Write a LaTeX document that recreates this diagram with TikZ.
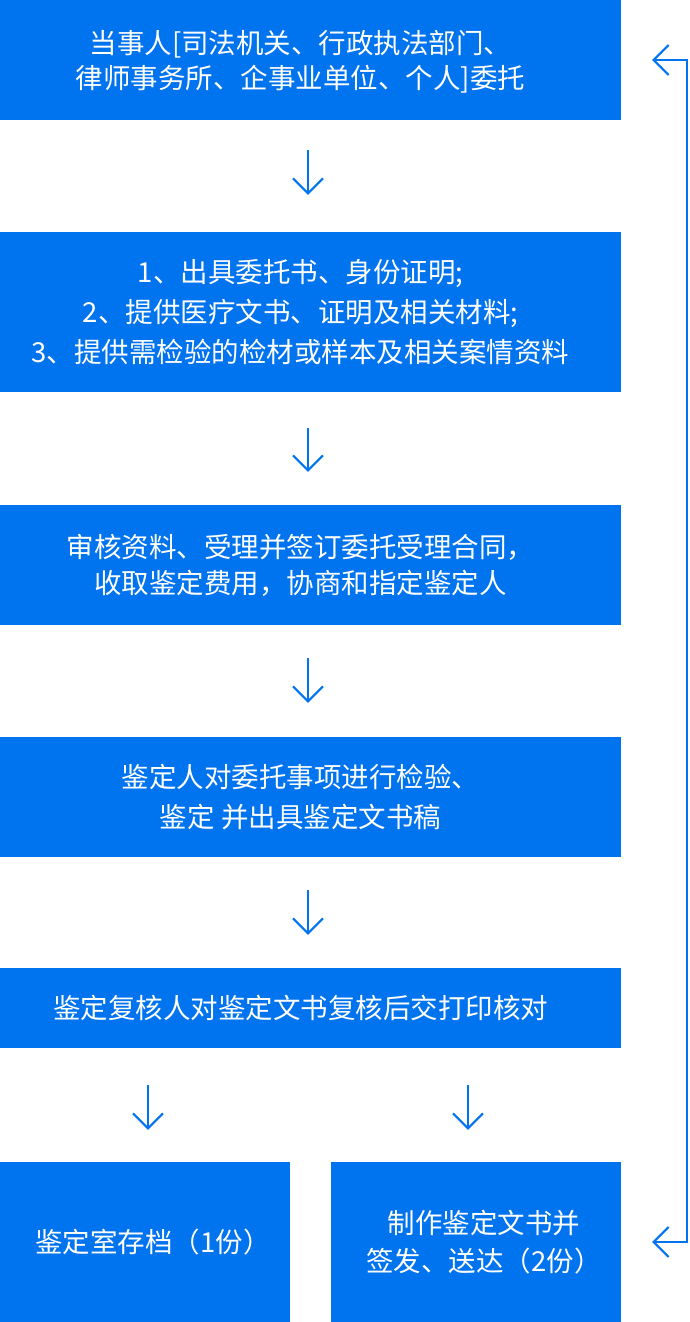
\documentclass[tikz,border=0pt]{standalone}
\usepackage{fontspec}
\setmainfont{Noto Sans CJK SC}
\usetikzlibrary{arrows.meta}
\definecolor{flowblue}{HTML}{0073EE}

\begin{document}
\begin{tikzpicture}[x=1pt,y=-1pt,
	>={Straight Barb[length=15pt,width=30pt]},
	box/.style={rectangle,fill=flowblue,inner sep=0pt},
	txt/.style={text=white,inner sep=0pt,align=center,font=\fontsize{27.5}{#1}\selectfont},
	txt/.default=38,
	flow/.style={->,draw=flowblue,line width=2pt}]
	\useasboundingbox (0,0) rectangle (690,1322);
	
	\node[box,minimum width=621pt,minimum height=120pt,
		label={[txt=35,xshift=-10pt,yshift=-2pt]center:当事人[司法机关、行政执法部门、\\律师事务所、企事业单位、个人]委托}] (b1) at (310.5,60) {};
	\node[box,minimum width=621pt,minimum height=160pt,
		label={[txt=40,xshift=-10pt]center:1、出具委托书、身份证明;\\2、提供医疗文书、证明及相关材料;\\3、提供需检验的检材或样本及相关案情资料}] (b2) at (310.5,312) {};
	\node[box,minimum width=621pt,minimum height=120pt,
		label={[txt=36,xshift=-10pt]center:审核资料、受理并签订委托受理合同，\\收取鉴定费用，协商和指定鉴定人}] (b3) at (310.5,565) {};
	\node[box,minimum width=621pt,minimum height=120pt,
		label={[txt=40,xshift=-10pt]center:鉴定人对委托事项进行检验、\\鉴定 并出具鉴定文书稿}] (b4) at (310.5,797) {};
	\node[box,minimum width=621pt,minimum height=80pt,
		label={[txt,xshift=-10pt]center:鉴定复核人对鉴定文书复核后交打印核对}] (b5) at (310.5,1008) {};
	\node[box,minimum width=290pt,minimum height=160pt,
		label={[txt,xshift=8pt]center:鉴定室存档（1份）}] (b6) at (145,1242) {};
	\node[box,minimum width=290pt,minimum height=160pt,
		label={[txt,xshift=8pt]center:制作鉴定文书并\\签发、送达（2份）}] (b7) at (476,1242) {};
	\coordinate (ret) at (687,0);
	
	\draw[flow,shorten <=30pt,shorten >=37pt] ([xshift=-2.5pt]b1.south) -- ([xshift=-2.5pt]b2.north);
	\draw[flow,shorten <=36pt,shorten >=33pt] ([xshift=-2.5pt]b2.south) -- ([xshift=-2.5pt]b3.north);
	\draw[flow,shorten <=33pt,shorten >=34pt] ([xshift=-2.5pt]b3.south) -- ([xshift=-2.5pt]b4.north);
	\draw[flow,shorten <=33pt,shorten >=33pt] ([xshift=-2.5pt]b4.south) -- ([xshift=-2.5pt]b5.north);
	\draw[flow,shorten <=37pt,shorten >=32pt] ([xshift=3pt]b5.south -| b6.north) -- ([xshift=3pt]b6.north);
	\draw[flow,shorten <=37pt,shorten >=32pt] ([xshift=-8pt]b5.south -| b7.north) -- ([xshift=-8pt]b7.north);
	
	% back to the client
	\draw[flow,<->,shorten <=31pt,shorten >=31pt] (b1.east) -- (b1.east -| ret) -- (b7.east -| ret) -- (b7.east);
\end{tikzpicture}
\end{document}
